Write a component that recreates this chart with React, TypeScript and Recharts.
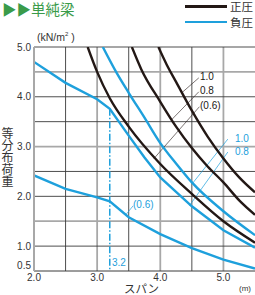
import React from 'react';
import { LineChart, Line, XAxis, YAxis, CartesianGrid, ReferenceLine } from 'recharts';

// 正圧 (positive pressure) curves: span (m) / load (kN/m2)
const posSpan06 = [2.85, 3.0, 3.2, 3.5, 4.0, 4.5, 5.0, 5.5];
const posLoad06 = [5.0, 4.5, 3.97, 3.4, 2.65, 2.05, 1.5, 1.07];
const posSpan08 = [3.55, 3.7, 4.0, 4.25, 4.5, 4.75, 5.0, 5.25, 5.5];
const posLoad08 = [5.0, 4.55, 3.9, 3.4, 2.97, 2.6, 2.28, 1.92, 1.63];
const posSpan10 = [3.97, 4.1, 4.25, 4.5, 4.75, 5.0, 5.25, 5.5];
const posLoad10 = [5.0, 4.65, 4.3, 3.72, 3.2, 2.76, 2.38, 2.08];

// 負圧 (negative pressure) curves
const negSpan06 = [2.0, 2.5, 3.0, 3.2, 3.5, 4.0, 4.5, 5.0, 5.5];
const negLoad06 = [2.42, 2.15, 1.98, 1.9, 1.58, 1.24, 0.96, 0.73, 0.55];
const negSpan08 = [2.0, 2.5, 3.0, 3.2, 3.5, 3.75, 4.0, 4.5, 5.0, 5.5];
const negLoad08 = [4.7, 4.28, 3.95, 3.76, 3.22, 2.78, 2.38, 1.8, 1.32, 0.97];
const negSpan10 = [3.09, 3.3, 3.5, 3.75, 4.0, 4.25, 4.5, 5.0, 5.5];
const negLoad10 = [5.0, 4.5, 4.08, 3.58, 3.07, 2.66, 2.28, 1.7, 1.22];

const xTicks = [2, 3, 4, 5];
const yTicks = [0.5, 1, 2, 3, 4, 5];
const darkRows = [5, 4, 3.5, 2.5, 2, 1];
const grayRows = [4.5, 3, 1.5];
const darkCols = [2.5, 3.5, 4.5];
const grayCols = [3, 4, 5];

const limitSpan = 3.2;

const BLACK = '#231815';
const BLUE = '#1ea0dc';
const GREEN = '#3a9b4a';
const NUM = '"Liberation Sans", Arial, sans-serif';
const JP = '"Noto Sans CJK JP", "Noto Sans", sans-serif';

const toPts = (xs: number[], ys: number[]) => xs.map((x, i) => ({ x, y: ys[i] }));

const YTick = (props: any) => {
  const { x, y, payload } = props;
  const shift = payload.value === 0.5 ? -6 : 0;
  return (
    <text x={x} y={y + shift} dy="0.355em" textAnchor="end" fontSize={10} fill="#333" fontFamily={NUM}>
      {Number(payload.value).toFixed(1)}
    </text>
  );
};

const txt = (left: number, top: number, size: number, color: string, font = NUM): React.CSSProperties => ({
  position: 'absolute', left, top, fontSize: size, color, fontFamily: font, lineHeight: 1, whiteSpace: 'nowrap',
});

export default function App() {
  return (
    <div style={{ position: 'absolute', left: 0, top: 0, width: 255, height: 295, background: '#fff', overflow: 'hidden' }}>
      <LineChart width={255} height={295} margin={{ top: 47, right: 0, bottom: 0, left: 0 }}>
        <CartesianGrid horizontalValues={grayRows} verticalValues={grayCols} stroke="#a8a8a8" strokeWidth={1.8} />
        <CartesianGrid horizontalValues={darkRows} verticalValues={darkCols} stroke="#3a3a3a" strokeWidth={0.9} />
        <XAxis
          type="number" dataKey="x" domain={[2, 5.5]} ticks={xTicks} allowDataOverflow
          tickFormatter={(v: number) => v.toFixed(1)} height={24} tickSize={0} tickMargin={3}
          tick={{ fontSize: 10, fill: '#333', fontFamily: NUM }} axisLine={{ stroke: '#3a3a3a', strokeWidth: 1 }} tickLine={false}
        />
        <YAxis
          type="number" domain={[0.5, 5]} ticks={yTicks} allowDataOverflow width={34}
          tickSize={0} tickMargin={3} tick={<YTick />} axisLine={{ stroke: '#a8a8a8', strokeWidth: 2 }} tickLine={false}
        />
        <ReferenceLine segment={[{ x: limitSpan, y: 3.76 }, { x: limitSpan, y: 0.5 }]} stroke={BLUE} strokeWidth={1.5} strokeDasharray="7 2 1.5 2" />
        <ReferenceLine segment={[{ x: 4.61, y: 4.38 }, { x: 4.34, y: 4.08 }]} stroke={BLACK} strokeWidth={0.6} />
        <ReferenceLine segment={[{ x: 4.61, y: 4.1 }, { x: 4.18, y: 3.54 }]} stroke={BLACK} strokeWidth={0.6} />
        <ReferenceLine segment={[{ x: 4.62, y: 3.8 }, { x: 3.9, y: 2.76 }]} stroke={BLACK} strokeWidth={0.6} />
        <ReferenceLine segment={[{ x: 5.07, y: 3.15 }, { x: 4.51, y: 2.26 }]} stroke={BLUE} strokeWidth={0.7} />
        <ReferenceLine segment={[{ x: 5.07, y: 2.89 }, { x: 4.46, y: 1.81 }]} stroke={BLUE} strokeWidth={0.7} />
        <ReferenceLine segment={[{ x: 3.57, y: 1.81 }, { x: 3.46, y: 1.64 }]} stroke={BLUE} strokeWidth={0.7} />
        <Line data={toPts(negSpan06, negLoad06)} dataKey="y" type="linear" stroke={BLUE} strokeWidth={2.4} dot={false} isAnimationActive={false} />
        <Line data={toPts(negSpan08, negLoad08)} dataKey="y" type="linear" stroke={BLUE} strokeWidth={2.4} dot={false} isAnimationActive={false} />
        <Line data={toPts(negSpan10, negLoad10)} dataKey="y" type="monotone" stroke={BLUE} strokeWidth={2.4} dot={false} isAnimationActive={false} />
        <Line data={toPts(posSpan06, posLoad06)} dataKey="y" type="monotone" stroke={BLACK} strokeWidth={2.4} dot={false} isAnimationActive={false} />
        <Line data={toPts(posSpan08, posLoad08)} dataKey="y" type="monotone" stroke={BLACK} strokeWidth={2.4} dot={false} isAnimationActive={false} />
        <Line data={toPts(posSpan10, posLoad10)} dataKey="y" type="monotone" stroke={BLACK} strokeWidth={2.4} dot={false} isAnimationActive={false} />
      </LineChart>

      <div style={txt(2, 2, 14.5, GREEN, JP)}>▶▶単純梁</div>

      <div style={{ position: 'absolute', left: 185, top: 5, width: 42, height: 2.5, background: BLACK }} />
      <div style={txt(230, 1, 11.5, '#333', JP)}>正圧</div>
      <div style={{ position: 'absolute', left: 185, top: 20.5, width: 42, height: 2.5, background: BLUE }} />
      <div style={txt(230, 16.5, 11.5, '#333', JP)}>負圧</div>

      <div style={txt(37, 31, 10.5, '#333')}>(kN/m<sup style={{ fontSize: 6 }}>2</sup> )</div>
      <div style={{ ...txt(1, 127, 12, '#333', JP), writingMode: 'vertical-rl' }}>等分布荷重</div>
      <div style={txt(124, 283, 11.5, '#333', JP)}>スパン</div>
      <div style={txt(239, 285, 8, '#333')}>(m)</div>

      <div style={txt(200, 72, 10, BLACK)}>1.0</div>
      <div style={txt(200, 86, 10, BLACK)}>0.8</div>
      <div style={txt(200, 101, 10, BLACK)}>(0.6)</div>
      <div style={txt(235, 134, 10, BLUE)}>1.0</div>
      <div style={txt(235, 147, 10, BLUE)}>0.8</div>
      <div style={txt(133, 200, 10, BLUE)}>(0.6)</div>
      <div style={txt(112, 258, 10, BLUE)}>3.2</div>
    </div>
  );
}
